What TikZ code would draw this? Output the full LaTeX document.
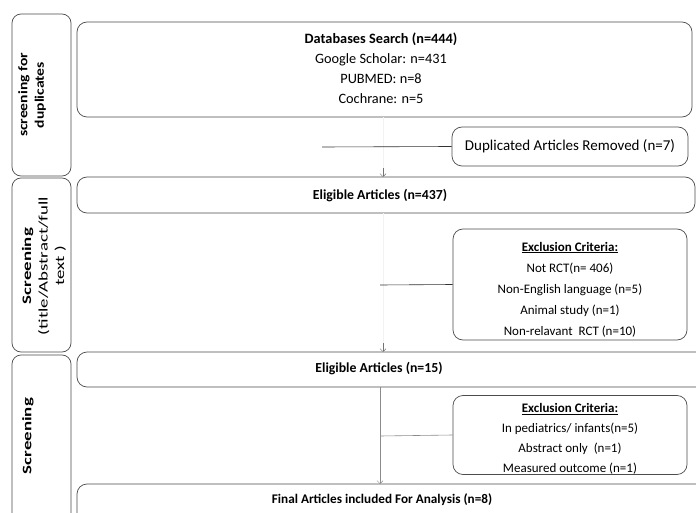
\documentclass[tikz,border=0pt]{standalone}
\usepackage{fontspec}
\setmainfont{Carlito}
\usetikzlibrary{arrows.meta}
\begin{document}
\begin{tikzpicture}[x=1pt,y=-1pt,
  box/.style={draw=black!70, rounded corners=10pt, line width=0.7pt, inner sep=0pt},
  stagebox/.style={draw=black!70, rounded corners=9pt, line width=0.7pt, inner sep=0pt, minimum width=59pt},
  txt/.style={inner sep=0pt, align=center, font=\fontsize{13.8}{20.5}\selectfont},
  dbtxt/.style={txt, font=\fontsize{14.3}{20}\selectfont},
  exctxt/.style={txt, font=\fontsize{13}{21}\selectfont},
  stagetxt/.style={inner sep=0pt, align=center, rotate=90, font=\fontsize{13}{16.5}\selectfont},
  conn/.style={draw=black!80, line width=0.6pt},
  faint/.style={draw=black!5, line width=0.5pt},
  tip/.style={-{Straight Barb[length=3pt,width=6pt,line width=0.5pt]}}
]
\clip (0,0) rectangle (696,513);
\fill[white] (0,0) rectangle (696,513);

% stage boxes
\node[stagebox, minimum height=162pt] (s1) at (41.5,95) {};
\node[stagebox, minimum height=174pt] (s2) at (41.5,265) {};
\node[stagebox, minimum height=180pt] (s3) at (41.5,445) {};
\node[stagetxt] (s1t) at (32,95) {\scalebox{1.2}[1]{\textbf{screening for}}\\\scalebox{1.2}[1]{\textbf{duplicates}}};
\node[stagetxt] (s2t) at (44,266) {\scalebox{1.45}[1]{\textbf{Screening}}\\\scalebox{1.45}[1]{(title/Abstract/full}\\\scalebox{1.45}[1]{text )}};
\node[stagetxt] (s3t) at (28,436) {\scalebox{1.45}[1]{\textbf{Screening}}};

% main boxes
\node[box, minimum width=615pt, minimum height=95pt] (db) at (384.5,69.5) {};
\node[dbtxt] (dbt) at (381,68) {\textbf{Databases Search (n=444)}\\Google Scholar: n=431\\PUBMED: n=8\\Cochrane: n=5};

\node[box, minimum width=236pt, minimum height=39pt] (dup) at (570,146.5) {};
\node[txt, font=\fontsize{15}{17}\selectfont] (dupt) at (dup.center) {Duplicated Articles Removed (n=7)};

\node[box, minimum width=618pt, minimum height=36pt] (e1) at (386,195) {};
\node[txt] (e1t) at (380,196) {\textbf{Eligible Articles (n=437)}};

\node[box, minimum width=234pt, minimum height=111pt] (x1) at (570,284.5) {};
\node[exctxt] (x1t) at (570,289.5) {\textbf{\underline{Exclusion Criteria:}}\\Not RCT(n= 406)\\Non-English language (n=5)\\Animal study (n=1)\\Non-relavant\ \ RCT (n=10)};

\node[box, minimum width=630pt, minimum height=35pt] (e2) at (392,369.5) {};
\node[txt] (e2t) at (379,369) {\textbf{Eligible Articles (n=15)}};

\node[box, minimum width=234pt, minimum height=79pt] (x2) at (570,435) {};
\node[exctxt, font=\fontsize{13}{20}\selectfont] (x2t) at (570,439) {\textbf{\underline{Exclusion Criteria:}}\\In pediatrics/ infants(n=5)\\Abstract only\ \ (n=1)\\Measured outcome (n=1)};

\node[box, minimum width=630pt, minimum height=50pt] (fin) at (392,509) {};
\node[txt, font=\fontsize{13.2}{16}\selectfont] (fint) at (382,500) {\textbf{Final Articles included For Analysis (n=8)}};

% connectors
\coordinate (a1) at (383,117);
\coordinate (a2) at (383,177);
\coordinate (d1) at (322,147);
\draw[faint] (a1) -- (a2);
\draw[draw=black!55, tip] (383,168) -- (a2);
\draw[conn] (d1) -- (dup.west);

\coordinate (b1) at (383,213);
\coordinate (b2) at (383,352);
\coordinate (c1) at (380,285);
\draw[faint] (b1) -- (b2);
\draw[draw=black!55, tip] (383,343) -- (b2);
\draw[conn] (c1) -- (x1.west);

\coordinate (f1) at (380,387);
\coordinate (f2) at (380,484);
\coordinate (c2) at (380,436);
\draw[draw=black!45, line width=0.6pt, tip] (f1) -- (f2);
\draw[draw=black!45, line width=0.6pt] (c2) -- (x2.west);
\end{tikzpicture}
\end{document}
